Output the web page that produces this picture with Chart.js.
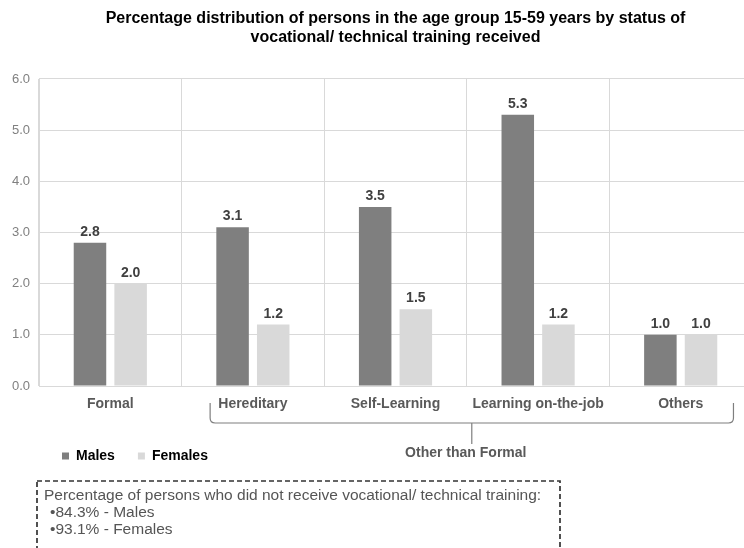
<!DOCTYPE html>
<html>
<head>
<meta charset="utf-8">
<script src="https://cdn.jsdelivr.net/npm/chart.js@4.4.1/dist/chart.umd.min.js"></script>
<style>
  html, body { margin: 0; padding: 0; background: #fff; overflow: hidden; }
  #frame { position: relative; width: 744px; height: 548px; overflow: hidden; background: #fff; }
  #chart { position: absolute; left: 0; top: 0; }
  #note-box { position: absolute; left: 0; top: 0; }
  .note { position: absolute; font-family: "Liberation Sans", Arial, sans-serif; font-size: 15.5px; color: #555; line-height: 17px; white-space: nowrap; }
</style>
</head>
<body>
<div id="frame">
  <canvas id="chart" width="760" height="548"></canvas>
  <svg id="note-box" width="744" height="548">
    <rect x="37" y="481" width="523" height="80" fill="none" stroke="#333" stroke-width="1.7" stroke-dasharray="5 3"/>
  </svg>
  <div class="note" style="left:44px; top:486px;">Percentage of persons who did not receive vocational/ technical training:</div>
  <div class="note" style="left:50px; top:503px;">•84.3% - Males</div>
  <div class="note" style="left:50px; top:520px;">•93.1% - Females</div>
</div>
<script>
// Training categories and the share of persons (%) in each, by sex
const categories = ['Formal', 'Hereditary', 'Self-Learning', 'Learning on-the-job', 'Others'];
const males = [2.8, 3.1, 3.5, 5.3, 1.0];
const females = [2.0, 1.2, 1.5, 1.2, 1.0];
const seriesNames = ['Males', 'Females'];
const titleLines = [
  'Percentage distribution of persons in the age group 15-59 years by status of',
  'vocational/ technical training received'
];
const groupLabel = 'Other than Formal';
const yMin = 0, yMax = 6, yStep = 1;

const FONT = '"Liberation Sans", Arial, sans-serif';

// Value labels above the bars, plus the brace grouping the non-formal categories
const annotate = {
  id: 'annotate',
  afterDatasetsDraw(chart) {
    const ctx = chart.ctx;
    ctx.save();
    ctx.font = 'bold 14px ' + FONT;
    ctx.fillStyle = '#404040';
    ctx.textAlign = 'center';
    ctx.textBaseline = 'alphabetic';
    chart.data.datasets.forEach((ds, di) => {
      chart.getDatasetMeta(di).data.forEach((bar, i) => {
        ctx.fillText(ds.data[i].toFixed(1), bar.x, bar.y - 7);
      });
    });
    ctx.restore();
  },
  afterDraw(chart) {
    const ctx = chart.ctx;
    const x = chart.scales.x;
    const step = x.getPixelForValue(1) - x.getPixelForValue(0);
    const left = x.getPixelForValue(1) - 0.3 * step;
    const right = x.getPixelForValue(4) + 0.37 * step;
    const base = chart.chartArea.bottom;
    const top = base + 17, mid = base + 37, stemEnd = base + 58, r = 5;
    const cx = (left + right) / 2;
    ctx.save();
    ctx.strokeStyle = '#7f7f7f';
    ctx.lineWidth = 1.2;
    ctx.beginPath();
    ctx.moveTo(left, top);
    ctx.lineTo(left, mid - r);
    ctx.quadraticCurveTo(left, mid, left + r, mid);
    ctx.lineTo(right - r, mid);
    ctx.quadraticCurveTo(right, mid, right, mid - r);
    ctx.lineTo(right, top);
    ctx.moveTo(cx, mid);
    ctx.lineTo(cx, stemEnd);
    ctx.stroke();
    ctx.font = 'bold 14px ' + FONT;
    ctx.fillStyle = '#595959';
    ctx.textAlign = 'center';
    ctx.textBaseline = 'middle';
    ctx.fillText(groupLabel, cx - 6, base + 67);
    ctx.restore();
  }
};

new Chart(document.getElementById('chart'), {
  type: 'bar',
  data: {
    labels: categories,
    datasets: [
      { label: seriesNames[0], data: males, backgroundColor: '#7f7f7f', borderWidth: 0 },
      { label: seriesNames[1], data: females, backgroundColor: '#d9d9d9', borderWidth: 0 }
    ]
  },
  options: {
    responsive: false,
    animation: false,
    devicePixelRatio: 1,
    categoryPercentage: 0.57,
    barPercentage: 0.8,
    layout: { padding: { left: 0, right: 8, top: 0, bottom: 75 } },
    plugins: {
      title: {
        display: true,
        fullSize: false,
        text: titleLines,
        color: '#000',
        font: { family: FONT, size: 16, weight: 'bold', lineHeight: 1.19 },
        padding: { top: 9.5, bottom: 31.4 }
      },
      legend: {
        display: true,
        fullSize: false,
        position: 'bottom',
        align: 'start',
        labels: {
          boxWidth: 7,
          boxHeight: 7,
          padding: 23,
          color: '#000',
          font: { family: FONT, size: 14, weight: 'bold' }
        }
      },
      tooltip: { enabled: false }
    },
    scales: {
      x: {
        grid: { color: '#d9d9d9', drawTicks: false, offset: true },
        border: { color: '#d9d9d9' },
        ticks: {
          color: '#595959',
          padding: 10,
          maxRotation: 0,
          autoSkip: false,
          font: { family: FONT, size: 14, weight: 'bold' }
        },
        afterFit(scale) { scale.height = 40; }
      },
      y: {
        min: yMin,
        max: yMax,
        grid: { color: '#d9d9d9', drawTicks: false },
        border: { color: '#d9d9d9' },
        ticks: {
          stepSize: yStep,
          color: '#808080',
          padding: 9,
          font: { family: FONT, size: 13 },
          callback: (v) => Number(v).toFixed(1)
        },
        afterFit(scale) { scale.width = 39; }
      }
    }
  },
  plugins: [annotate]
});
</script>
</body>
</html>
